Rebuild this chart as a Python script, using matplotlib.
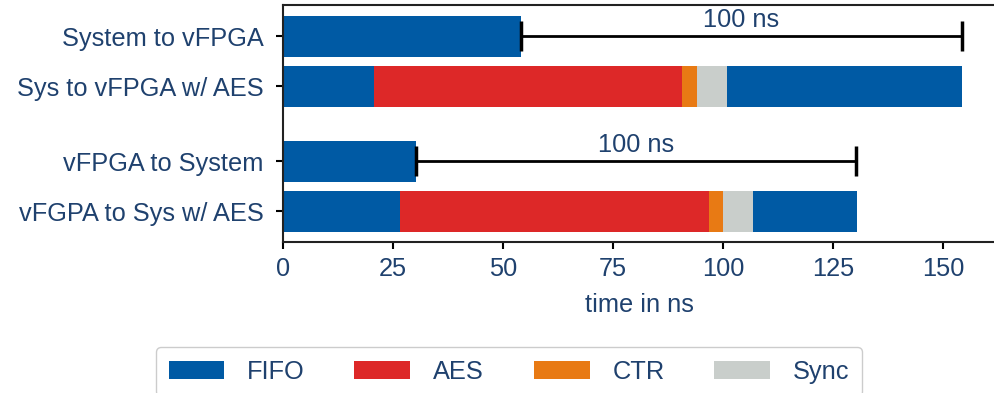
import matplotlib
matplotlib.use("Agg")
import matplotlib.pyplot as plt

# colours / fonts
text_col = "#1F416E"
fifo_col = "#005AA4"
aes_col = "#DD2828"
ctr_col = "#E87A14"
sync_col = "#C9CECB"

plt.rcParams.update({
    "font.family": ["Liberation Sans", "DejaVu Sans"],
    "font.size": 18.3,
    "text.color": text_col,
    "xtick.labelcolor": text_col,
    "ytick.labelcolor": text_col,
    "axes.labelcolor": text_col,
})

# data
labels = ["System to vFPGA", "Sys to vFPGA w/ AES", "vFPGA to System", "vFGPA to Sys w/ AES"]
fifo_in = [54.1, 20.6, 30.1, 26.5]
aes = [0, 70.1, 0, 70.3]
ctr = [0, 3.4, 0, 3.2]
sync = [0, 6.8, 0, 6.8]
fifo_out = [0, 53.4, 0, 23.5]
scale_rows = [0, 2]
scale_len = 100

ypos = [0, 1, 2.5, 3.5]
h = 0.82

fig = plt.figure(figsize=(9.95, 3.93), dpi=100)
ax = fig.add_axes([283 / 995, 1 - 241.5 / 393, 1 - 283 / 995, (241.5 - 5) / 393])

left = [0] * 4
for vals, col, lab in [(fifo_in, fifo_col, "FIFO"), (aes, aes_col, "AES"),
                       (ctr, ctr_col, "CTR"), (sync, sync_col, "Sync"),
                       (fifo_out, fifo_col, None)]:
    ax.barh(ypos, vals, height=h, left=left, color=col, label=lab, linewidth=0)
    left = [l + v for l, v in zip(left, vals)]

# 100 ns scale markers
for r in scale_rows:
    x0 = fifo_in[r]
    ax.errorbar([x0], [ypos[r]], xerr=[[0], [scale_len]], fmt="none", ecolor="black",
                elinewidth=2, capsize=11, capthick=2.5)
    ax.text(x0 + scale_len / 2, ypos[r] - 0.08, "100 ns", ha="center", va="bottom")

ax.set_yticks(ypos)
ax.set_yticklabels(labels)
ax.set_ylim(4.1, -0.62)
ax.set_xlim(0, 161.7)
ax.set_xticks([0, 25, 50, 75, 100, 125, 150])
ax.set_xlabel("time in ns", labelpad=9)
ax.spines["right"].set_visible(False)
for s in ["top", "left", "bottom"]:
    ax.spines[s].set_linewidth(1.5)
    ax.spines[s].set_color("#222222")
ax.tick_params(length=5, width=1.5)
ax.tick_params(axis="y", pad=9)
ax.tick_params(axis="x", pad=6)

fig.legend(loc="upper center", bbox_to_anchor=(509 / 995, 1 - 347 / 393), ncol=4,
           borderaxespad=0, handlelength=2.2, handleheight=0.72, handletextpad=0.9,
           columnspacing=1.95, borderpad=0.5, frameon=True, edgecolor="#CCCCCC",
           fancybox=True, framealpha=1)

fig.savefig("out.png", dpi=100)
